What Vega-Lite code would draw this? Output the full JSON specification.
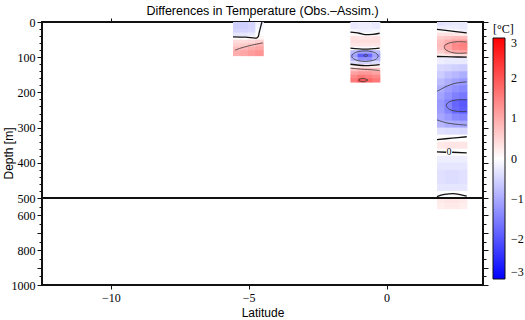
{
"$schema":"https://vega.github.io/schema/vega-lite/v6.json",
"width":441,"height":263,
"autosize":"none",
"padding":{"left":42,"top":22,"right":42,"bottom":35},
"background":"white",
"title":{"text":"Differences in Temperature (Obs.–Assim.)","font":"Liberation Sans","fontSize":12.5,"fontWeight":"normal","color":"black","anchor":"middle","baseline":"alphabetic","offset":0,"dy":11,"frame":"group"},
"config":{"view":{"stroke":"#111","strokeWidth":2},
"title":{"color":"black"},
"axis":{"grid":false,"domain":false,"tickColor":"#111","labelColor":"black","titleColor":"black","labelFont":"Liberation Serif","labelFontSize":12,"titleFont":"Liberation Sans","titleFontSize":12,"titleFontWeight":"normal","labelFlush":false,"labelOverlap":false}},
"datasets":{
"cells":[
{"a":-5.57,"b":-5.3,"t":0,"u":10,"v":-0.55},{"a":-5.3,"b":-5.03,"t":0,"u":10,"v":-0.55},{"a":-5.03,"b":-4.76,"t":0,"u":10,"v":-0.5},{"a":-4.76,"b":-4.48,"t":0,"u":10,"v":-0.15},
{"a":-5.57,"b":-5.3,"t":10,"u":20,"v":-0.55},{"a":-5.3,"b":-5.03,"t":10,"u":20,"v":-0.55},{"a":-5.03,"b":-4.76,"t":10,"u":20,"v":-0.5},{"a":-4.76,"b":-4.48,"t":10,"u":20,"v":-0.1},
{"a":-5.57,"b":-5.3,"t":20,"u":30,"v":-0.5},{"a":-5.3,"b":-5.03,"t":20,"u":30,"v":-0.5},{"a":-5.03,"b":-4.76,"t":20,"u":30,"v":-0.45},{"a":-4.76,"b":-4.48,"t":20,"u":30,"v":-0.05},
{"a":-5.57,"b":-5.3,"t":30,"u":40,"v":-0.3},{"a":-5.3,"b":-5.03,"t":30,"u":40,"v":-0.3},{"a":-5.03,"b":-4.76,"t":30,"u":40,"v":-0.25},{"a":-4.76,"b":-4.48,"t":30,"u":40,"v":0.0},
{"a":-5.57,"b":-5.3,"t":40,"u":50,"v":0.0},{"a":-5.3,"b":-5.03,"t":40,"u":50,"v":0.0},{"a":-5.03,"b":-4.76,"t":40,"u":50,"v":0.05},{"a":-4.76,"b":-4.48,"t":40,"u":50,"v":0.1},
{"a":-5.57,"b":-5.3,"t":50,"u":60,"v":0.4},{"a":-5.3,"b":-5.03,"t":50,"u":60,"v":0.4},{"a":-5.03,"b":-4.76,"t":50,"u":60,"v":0.45},{"a":-4.76,"b":-4.48,"t":50,"u":60,"v":0.55},
{"a":-5.57,"b":-5.3,"t":60,"u":70,"v":0.55},{"a":-5.3,"b":-5.03,"t":60,"u":70,"v":0.6},{"a":-5.03,"b":-4.76,"t":60,"u":70,"v":0.7},{"a":-4.76,"b":-4.48,"t":60,"u":70,"v":0.9},
{"a":-5.57,"b":-5.3,"t":70,"u":80,"v":0.75},{"a":-5.3,"b":-5.03,"t":70,"u":80,"v":0.85},{"a":-5.03,"b":-4.76,"t":70,"u":80,"v":0.95},{"a":-4.76,"b":-4.48,"t":70,"u":80,"v":1.05},
{"a":-5.57,"b":-5.3,"t":80,"u":95,"v":0.95},{"a":-5.3,"b":-5.03,"t":80,"u":95,"v":1.05},{"a":-5.03,"b":-4.76,"t":80,"u":95,"v":1.15},{"a":-4.76,"b":-4.48,"t":80,"u":95,"v":1.25},

{"a":-1.31,"b":-1.05,"t":0,"u":10,"v":-0.25},{"a":-1.05,"b":-0.78,"t":0,"u":10,"v":-0.2},{"a":-0.78,"b":-0.52,"t":0,"u":10,"v":-0.2},{"a":-0.52,"b":-0.25,"t":0,"u":10,"v":-0.25},
{"a":-1.31,"b":-1.05,"t":10,"u":20,"v":-0.25},{"a":-1.05,"b":-0.78,"t":10,"u":20,"v":-0.2},{"a":-0.78,"b":-0.52,"t":10,"u":20,"v":-0.2},{"a":-0.52,"b":-0.25,"t":10,"u":20,"v":-0.25},
{"a":-1.31,"b":-1.05,"t":20,"u":30,"v":-0.1},{"a":-1.05,"b":-0.78,"t":20,"u":30,"v":-0.15},{"a":-0.78,"b":-0.52,"t":20,"u":30,"v":-0.15},{"a":-0.52,"b":-0.25,"t":20,"u":30,"v":-0.1},
{"a":-1.31,"b":-1.05,"t":30,"u":40,"v":0.1},{"a":-1.05,"b":-0.78,"t":30,"u":40,"v":0.0},{"a":-0.78,"b":-0.52,"t":30,"u":40,"v":0.0},{"a":-0.52,"b":-0.25,"t":30,"u":40,"v":0.05},
{"a":-1.31,"b":-1.05,"t":40,"u":50,"v":0.35},{"a":-1.05,"b":-0.78,"t":40,"u":50,"v":0.3},{"a":-0.78,"b":-0.52,"t":40,"u":50,"v":0.3},{"a":-0.52,"b":-0.25,"t":40,"u":50,"v":0.35},
{"a":-1.31,"b":-1.05,"t":50,"u":60,"v":0.4},{"a":-1.05,"b":-0.78,"t":50,"u":60,"v":0.4},{"a":-0.78,"b":-0.52,"t":50,"u":60,"v":0.4},{"a":-0.52,"b":-0.25,"t":50,"u":60,"v":0.4},
{"a":-1.31,"b":-1.05,"t":60,"u":70,"v":0.3},{"a":-1.05,"b":-0.78,"t":60,"u":70,"v":0.3},{"a":-0.78,"b":-0.52,"t":60,"u":70,"v":0.3},{"a":-0.52,"b":-0.25,"t":60,"u":70,"v":0.3},
{"a":-1.31,"b":-1.05,"t":70,"u":80,"v":0.0},{"a":-1.05,"b":-0.78,"t":70,"u":80,"v":-0.05},{"a":-0.78,"b":-0.52,"t":70,"u":80,"v":-0.05},{"a":-0.52,"b":-0.25,"t":70,"u":80,"v":0.0},
{"a":-1.31,"b":-1.05,"t":80,"u":90,"v":-0.8},{"a":-1.05,"b":-0.78,"t":80,"u":90,"v":-1.1},{"a":-0.78,"b":-0.52,"t":80,"u":90,"v":-1.1},{"a":-0.52,"b":-0.25,"t":80,"u":90,"v":-0.8},
{"a":-1.31,"b":-1.05,"t":90,"u":100,"v":-1.1},{"a":-1.05,"b":-0.78,"t":90,"u":100,"v":-1.9},{"a":-0.78,"b":-0.52,"t":90,"u":100,"v":-1.8},{"a":-0.52,"b":-0.25,"t":90,"u":100,"v":-1.1},
{"a":-1.31,"b":-1.05,"t":100,"u":110,"v":-0.9},{"a":-1.05,"b":-0.78,"t":100,"u":110,"v":-1.3},{"a":-0.78,"b":-0.52,"t":100,"u":110,"v":-1.3},{"a":-0.52,"b":-0.25,"t":100,"u":110,"v":-0.9},
{"a":-1.31,"b":-1.05,"t":110,"u":120,"v":-0.4},{"a":-1.05,"b":-0.78,"t":110,"u":120,"v":-0.5},{"a":-0.78,"b":-0.52,"t":110,"u":120,"v":-0.5},{"a":-0.52,"b":-0.25,"t":110,"u":120,"v":-0.4},
{"a":-1.31,"b":-1.05,"t":120,"u":130,"v":0.15},{"a":-1.05,"b":-0.78,"t":120,"u":130,"v":0.15},{"a":-0.78,"b":-0.52,"t":120,"u":130,"v":0.15},{"a":-0.52,"b":-0.25,"t":120,"u":130,"v":0.15},
{"a":-1.31,"b":-1.05,"t":130,"u":140,"v":0.7},{"a":-1.05,"b":-0.78,"t":130,"u":140,"v":0.8},{"a":-0.78,"b":-0.52,"t":130,"u":140,"v":0.8},{"a":-0.52,"b":-0.25,"t":130,"u":140,"v":0.7},
{"a":-1.31,"b":-1.05,"t":140,"u":150,"v":1.1},{"a":-1.05,"b":-0.78,"t":140,"u":150,"v":1.2},{"a":-0.78,"b":-0.52,"t":140,"u":150,"v":1.2},{"a":-0.52,"b":-0.25,"t":140,"u":150,"v":1.1},
{"a":-1.31,"b":-1.05,"t":150,"u":160,"v":1.4},{"a":-1.05,"b":-0.78,"t":150,"u":160,"v":1.6},{"a":-0.78,"b":-0.52,"t":150,"u":160,"v":1.5},{"a":-0.52,"b":-0.25,"t":150,"u":160,"v":1.4},
{"a":-1.31,"b":-1.05,"t":160,"u":170,"v":1.6},{"a":-1.05,"b":-0.78,"t":160,"u":170,"v":2.0},{"a":-0.78,"b":-0.52,"t":160,"u":170,"v":1.8},{"a":-0.52,"b":-0.25,"t":160,"u":170,"v":1.6},

{"a":1.83,"b":2.1,"t":0,"u":10,"v":-0.35},{"a":2.1,"b":2.37,"t":0,"u":10,"v":-0.3},{"a":2.37,"b":2.64,"t":0,"u":10,"v":-0.25},{"a":2.64,"b":2.91,"t":0,"u":10,"v":-0.25},
{"a":1.83,"b":2.1,"t":10,"u":20,"v":-0.2},{"a":2.1,"b":2.37,"t":10,"u":20,"v":-0.2},{"a":2.37,"b":2.64,"t":10,"u":20,"v":-0.2},{"a":2.64,"b":2.91,"t":10,"u":20,"v":-0.25},
{"a":1.83,"b":2.1,"t":20,"u":30,"v":0.05},{"a":2.1,"b":2.37,"t":20,"u":30,"v":-0.05},{"a":2.37,"b":2.64,"t":20,"u":30,"v":-0.1},{"a":2.64,"b":2.91,"t":20,"u":30,"v":-0.15},
{"a":1.83,"b":2.1,"t":30,"u":40,"v":0.35},{"a":2.1,"b":2.37,"t":30,"u":40,"v":0.35},{"a":2.37,"b":2.64,"t":30,"u":40,"v":0.3},{"a":2.64,"b":2.91,"t":30,"u":40,"v":0.25},
{"a":1.83,"b":2.1,"t":40,"u":50,"v":0.6},{"a":2.1,"b":2.37,"t":40,"u":50,"v":0.7},{"a":2.37,"b":2.64,"t":40,"u":50,"v":0.8},{"a":2.64,"b":2.91,"t":40,"u":50,"v":0.8},
{"a":1.83,"b":2.1,"t":50,"u":60,"v":0.75},{"a":2.1,"b":2.37,"t":50,"u":60,"v":0.95},{"a":2.37,"b":2.64,"t":50,"u":60,"v":1.1},{"a":2.64,"b":2.91,"t":50,"u":60,"v":1.2},
{"a":1.83,"b":2.1,"t":60,"u":70,"v":0.8},{"a":2.1,"b":2.37,"t":60,"u":70,"v":1.1},{"a":2.37,"b":2.64,"t":60,"u":70,"v":1.4},{"a":2.64,"b":2.91,"t":60,"u":70,"v":1.5},
{"a":1.83,"b":2.1,"t":70,"u":80,"v":0.75},{"a":2.1,"b":2.37,"t":70,"u":80,"v":1.05},{"a":2.37,"b":2.64,"t":70,"u":80,"v":1.35},{"a":2.64,"b":2.91,"t":70,"u":80,"v":1.45},
{"a":1.83,"b":2.1,"t":80,"u":90,"v":0.55},{"a":2.1,"b":2.37,"t":80,"u":90,"v":0.8},{"a":2.37,"b":2.64,"t":80,"u":90,"v":1.0},{"a":2.64,"b":2.91,"t":80,"u":90,"v":1.1},
{"a":1.83,"b":2.1,"t":90,"u":100,"v":0.2},{"a":2.1,"b":2.37,"t":90,"u":100,"v":0.3},{"a":2.37,"b":2.64,"t":90,"u":100,"v":0.35},{"a":2.64,"b":2.91,"t":90,"u":100,"v":0.4},
{"a":1.83,"b":2.1,"t":100,"u":120,"v":-0.2},{"a":2.1,"b":2.37,"t":100,"u":120,"v":-0.25},{"a":2.37,"b":2.64,"t":100,"u":120,"v":-0.25},{"a":2.64,"b":2.91,"t":100,"u":120,"v":-0.25},
{"a":1.83,"b":2.1,"t":120,"u":140,"v":-0.45},{"a":2.1,"b":2.37,"t":120,"u":140,"v":-0.5},{"a":2.37,"b":2.64,"t":120,"u":140,"v":-0.55},{"a":2.64,"b":2.91,"t":120,"u":140,"v":-0.6},
{"a":1.83,"b":2.1,"t":140,"u":160,"v":-0.6},{"a":2.1,"b":2.37,"t":140,"u":160,"v":-0.75},{"a":2.37,"b":2.64,"t":140,"u":160,"v":-0.85},{"a":2.64,"b":2.91,"t":140,"u":160,"v":-0.95},
{"a":1.83,"b":2.1,"t":160,"u":180,"v":-0.8},{"a":2.1,"b":2.37,"t":160,"u":180,"v":-0.95},{"a":2.37,"b":2.64,"t":160,"u":180,"v":-1.1},{"a":2.64,"b":2.91,"t":160,"u":180,"v":-1.2},
{"a":1.83,"b":2.1,"t":180,"u":200,"v":-0.95},{"a":2.1,"b":2.37,"t":180,"u":200,"v":-1.15},{"a":2.37,"b":2.64,"t":180,"u":200,"v":-1.3},{"a":2.64,"b":2.91,"t":180,"u":200,"v":-1.4},
{"a":1.83,"b":2.1,"t":200,"u":220,"v":-1.1},{"a":2.1,"b":2.37,"t":200,"u":220,"v":-1.3},{"a":2.37,"b":2.64,"t":200,"u":220,"v":-1.5},{"a":2.64,"b":2.91,"t":200,"u":220,"v":-1.6},
{"a":1.83,"b":2.1,"t":220,"u":240,"v":-1.2},{"a":2.1,"b":2.37,"t":220,"u":240,"v":-1.45},{"a":2.37,"b":2.64,"t":220,"u":240,"v":-1.8},{"a":2.64,"b":2.91,"t":220,"u":240,"v":-1.95},
{"a":1.83,"b":2.1,"t":240,"u":260,"v":-1.15},{"a":2.1,"b":2.37,"t":240,"u":260,"v":-1.45},{"a":2.37,"b":2.64,"t":240,"u":260,"v":-1.75},{"a":2.64,"b":2.91,"t":240,"u":260,"v":-1.9},
{"a":1.83,"b":2.1,"t":260,"u":280,"v":-1.05},{"a":2.1,"b":2.37,"t":260,"u":280,"v":-1.2},{"a":2.37,"b":2.64,"t":260,"u":280,"v":-1.4},{"a":2.64,"b":2.91,"t":260,"u":280,"v":-1.45},
{"a":1.83,"b":2.1,"t":280,"u":300,"v":-0.85},{"a":2.1,"b":2.37,"t":280,"u":300,"v":-0.95},{"a":2.37,"b":2.64,"t":280,"u":300,"v":-1.0},{"a":2.64,"b":2.91,"t":280,"u":300,"v":-1.05},
{"a":1.83,"b":2.1,"t":300,"u":320,"v":-0.35},{"a":2.1,"b":2.37,"t":300,"u":320,"v":-0.4},{"a":2.37,"b":2.64,"t":300,"u":320,"v":-0.4},{"a":2.64,"b":2.91,"t":300,"u":320,"v":-0.45},
{"a":1.83,"b":2.1,"t":320,"u":340,"v":0.05},{"a":2.1,"b":2.37,"t":320,"u":340,"v":0.05},{"a":2.37,"b":2.64,"t":320,"u":340,"v":0.0},{"a":2.64,"b":2.91,"t":320,"u":340,"v":0.0},
{"a":1.83,"b":2.1,"t":340,"u":360,"v":0.25},{"a":2.1,"b":2.37,"t":340,"u":360,"v":0.3},{"a":2.37,"b":2.64,"t":340,"u":360,"v":0.3},{"a":2.64,"b":2.91,"t":340,"u":360,"v":0.3},
{"a":1.83,"b":2.1,"t":360,"u":380,"v":0.05},{"a":2.1,"b":2.37,"t":360,"u":380,"v":0.0},{"a":2.37,"b":2.64,"t":360,"u":380,"v":0.0},{"a":2.64,"b":2.91,"t":360,"u":380,"v":0.0},
{"a":1.83,"b":2.1,"t":380,"u":400,"v":-0.2},{"a":2.1,"b":2.37,"t":380,"u":400,"v":-0.2},{"a":2.37,"b":2.64,"t":380,"u":400,"v":-0.2},{"a":2.64,"b":2.91,"t":380,"u":400,"v":-0.2},
{"a":1.83,"b":2.1,"t":400,"u":420,"v":-0.3},{"a":2.1,"b":2.37,"t":400,"u":420,"v":-0.3},{"a":2.37,"b":2.64,"t":400,"u":420,"v":-0.3},{"a":2.64,"b":2.91,"t":400,"u":420,"v":-0.3},
{"a":1.83,"b":2.1,"t":420,"u":440,"v":-0.35},{"a":2.1,"b":2.37,"t":420,"u":440,"v":-0.4},{"a":2.37,"b":2.64,"t":420,"u":440,"v":-0.4},{"a":2.64,"b":2.91,"t":420,"u":440,"v":-0.35},
{"a":1.83,"b":2.1,"t":440,"u":460,"v":-0.35},{"a":2.1,"b":2.37,"t":440,"u":460,"v":-0.4},{"a":2.37,"b":2.64,"t":440,"u":460,"v":-0.4},{"a":2.64,"b":2.91,"t":440,"u":460,"v":-0.35},
{"a":1.83,"b":2.1,"t":460,"u":480,"v":-0.3},{"a":2.1,"b":2.37,"t":460,"u":480,"v":-0.3},{"a":2.37,"b":2.64,"t":460,"u":480,"v":-0.3},{"a":2.64,"b":2.91,"t":460,"u":480,"v":-0.3},
{"a":1.83,"b":2.1,"t":480,"u":500,"v":-0.05},{"a":2.1,"b":2.37,"t":480,"u":500,"v":0.0},{"a":2.37,"b":2.64,"t":480,"u":500,"v":0.05},{"a":2.64,"b":2.91,"t":480,"u":500,"v":0.0},
{"a":1.83,"b":2.1,"t":500,"u":530,"v":0.25},{"a":2.1,"b":2.37,"t":500,"u":530,"v":0.3},{"a":2.37,"b":2.64,"t":500,"u":530,"v":0.3},{"a":2.64,"b":2.91,"t":500,"u":530,"v":0.25},
{"a":1.83,"b":2.1,"t":530,"u":560,"v":0.2},{"a":2.1,"b":2.37,"t":530,"u":560,"v":0.25},{"a":2.37,"b":2.64,"t":530,"u":560,"v":0.25},{"a":2.64,"b":2.91,"t":530,"u":560,"v":0.2}
],
"thick":[
{"g":"A","o":1,"x":-5.57,"y":42},{"g":"A","o":2,"x":-5.1,"y":43},{"g":"A","o":3,"x":-4.7,"y":45},{"g":"A","o":4,"x":-4.62,"y":30},{"g":"A","o":5,"x":-4.55,"y":8},{"g":"A","o":6,"x":-4.52,"y":0},
{"g":"B","o":1,"x":-1.31,"y":29},{"g":"B","o":2,"x":-1.0,"y":32},{"g":"B","o":3,"x":-0.78,"y":36},{"g":"B","o":4,"x":-0.5,"y":35},{"g":"B","o":5,"x":-0.25,"y":32},
{"g":"C","o":1,"x":-1.31,"y":74},{"g":"C","o":2,"x":-0.78,"y":77},{"g":"C","o":3,"x":-0.25,"y":74},
{"g":"D","o":1,"x":-1.31,"y":120},{"g":"D","o":2,"x":-0.78,"y":124},{"g":"D","o":3,"x":-0.25,"y":121},
{"g":"E","o":1,"x":1.83,"y":21},{"g":"E","o":2,"x":2.37,"y":26},{"g":"E","o":3,"x":2.91,"y":31},
{"g":"F","o":1,"x":1.83,"y":98},{"g":"F","o":2,"x":2.37,"y":99},{"g":"F","o":3,"x":2.91,"y":100},
{"g":"G","o":1,"x":1.83,"y":334},{"g":"G","o":2,"x":2.37,"y":330},{"g":"G","o":3,"x":2.91,"y":326},
{"g":"H","o":1,"x":1.83,"y":369},{"g":"H","o":2,"x":2.16,"y":370},
{"g":"H2","o":1,"x":2.38,"y":370},{"g":"H2","o":2,"x":2.91,"y":372},
{"g":"I","o":1,"x":1.83,"y":496},{"g":"I","o":2,"x":2.1,"y":490},{"g":"I","o":3,"x":2.5,"y":488},{"g":"I","o":4,"x":2.91,"y":495}
],
"thin":[
{"g":"J","o":1,"x":-5.5,"y":80},{"g":"J","o":2,"x":-5.2,"y":72},{"g":"J","o":3,"x":-4.9,"y":66},{"g":"J","o":4,"x":-4.48,"y":59},
{"g":"K","o":1,"x":-0.3,"y":97},{"g":"K","o":2,"x":-0.364,"y":104.5},{"g":"K","o":3,"x":-0.54,"y":110},{"g":"K","o":4,"x":-0.78,"y":112},{"g":"K","o":5,"x":-1.02,"y":110},{"g":"K","o":6,"x":-1.196,"y":104.5},{"g":"K","o":7,"x":-1.26,"y":97},{"g":"K","o":8,"x":-1.196,"y":89.5},{"g":"K","o":9,"x":-1.02,"y":84},{"g":"K","o":10,"x":-0.78,"y":82},{"g":"K","o":11,"x":-0.54,"y":84},{"g":"K","o":12,"x":-0.364,"y":89.5},{"g":"K","o":13,"x":-0.3,"y":97},
{"g":"L","o":1,"x":-0.68,"y":95},{"g":"L","o":2,"x":-0.75,"y":98},{"g":"L","o":3,"x":-0.82,"y":95},{"g":"L","o":4,"x":-0.75,"y":92},{"g":"L","o":5,"x":-0.68,"y":95},
{"g":"M","o":1,"x":-1.31,"y":131},{"g":"M","o":2,"x":-0.9,"y":134},{"g":"M","o":3,"x":-0.5,"y":136},{"g":"M","o":4,"x":-0.25,"y":138},
{"g":"N","o":1,"x":-0.68,"y":165},{"g":"N","o":2,"x":-0.85,"y":170},{"g":"N","o":3,"x":-1.02,"y":165},{"g":"N","o":4,"x":-0.85,"y":160},{"g":"N","o":5,"x":-0.68,"y":165},
{"g":"O","o":1,"x":2.91,"y":57},{"g":"O","o":2,"x":2.6,"y":56},{"g":"O","o":3,"x":2.3,"y":59},{"g":"O","o":4,"x":2.12,"y":66},{"g":"O","o":5,"x":2.1,"y":72},{"g":"O","o":6,"x":2.15,"y":79},{"g":"O","o":7,"x":2.35,"y":86},{"g":"O","o":8,"x":2.6,"y":89},{"g":"O","o":9,"x":2.91,"y":88},
{"g":"P","o":1,"x":1.83,"y":197},{"g":"P","o":2,"x":2.0,"y":190},{"g":"P","o":3,"x":2.2,"y":182},{"g":"P","o":4,"x":2.5,"y":174},{"g":"P","o":5,"x":2.91,"y":170},
{"g":"Q","o":1,"x":1.83,"y":278},{"g":"Q","o":2,"x":2.2,"y":287},{"g":"Q","o":3,"x":2.6,"y":291},{"g":"Q","o":4,"x":2.91,"y":293},
{"g":"R","o":1,"x":2.91,"y":221},{"g":"R","o":2,"x":2.6,"y":221},{"g":"R","o":3,"x":2.3,"y":226},{"g":"R","o":4,"x":2.17,"y":237},{"g":"R","o":5,"x":2.3,"y":249},{"g":"R","o":6,"x":2.6,"y":254},{"g":"R","o":7,"x":2.91,"y":254}
],
"brk":[{"d":500}],
"lbl":[{"x":2.27,"y":370,"s":"0"}]
},
"layer":[
{"data":{"name":"cells"},"mark":{"type":"rect","strokeWidth":0,"x2Offset":0.7,"y2Offset":0.7},
 "encoding":{
  "x":{"field":"a","type":"quantitative","scale":{"domain":[-12.5,3.5],"nice":false,"zero":false},
   "axis":{"orient":"bottom","values":[-10,-5,0],"title":"Latitude","tickSize":4,"labelPadding":3,"titlePadding":4}},
  "x2":{"field":"b"},
  "y":{"field":"t","type":"quantitative","scale":{"domain":[0,500,1000],"range":[0,176,263],"nice":false,"zero":false},
   "axis":{"orient":"left","values":[0,100,200,300,400,500,600,700,800,900,1000],"format":"d","labelExpr":"datum.value==700||datum.value==900?'':datum.label","title":"Depth [m]","titleX":-34,"titleY":131,"titleAngle":-90,"titleAlign":"center","titleBaseline":"middle","tickSize":5,"labelPadding":2}},
  "y2":{"field":"u"},
  "color":{"field":"v","type":"quantitative","scale":{"domain":[-3,0,3],"range":["#0000ff","#ffffff","#ff0000"],"interpolate":"rgb"},
   "legend":{"title":"[°C]","orient":"none","legendX":451,"legendY":2,"direction":"vertical","gradientLength":241,"gradientThickness":12,"gradientStrokeColor":"#111","gradientStrokeWidth":1,"values":[-3,-2,-1,0,1,2,3],"labelFont":"Liberation Serif","labelFontSize":12,"labelColor":"#000000","labelOffset":6,"labelBaseline":"middle","titleFont":"Liberation Serif","titleFontSize":12,"titleFontWeight":"normal","titleColor":"#000000","titlePadding":2,"labelOverlap":false}}
 }},
{"data":{"name":"thick"},"mark":{"type":"line","color":"#111","strokeWidth":1.3,"interpolate":"cardinal"},
 "encoding":{
  "x":{"field":"x","type":"quantitative","scale":{"domain":[-12.5,3.5],"nice":false,"zero":false},
   "axis":{"orient":"top","values":[-10,-5,0],"labels":false,"title":null,"tickSize":4}},
  "y":{"field":"y","type":"quantitative","scale":{"domain":[0,500,1000],"range":[0,176,263],"nice":false,"zero":false},
   "axis":{"orient":"left","values":[20,40,60,80,120,140,160,180,220,240,260,280,320,340,360,380,420,440,460,480,550,650,750,850,950],"labels":false,"title":null,"tickSize":3}},
  "detail":{"field":"g"},"order":{"field":"o"}
 }},
{"data":{"name":"thin"},"mark":{"type":"line","color":"#333","strokeWidth":0.8,"interpolate":"cardinal"},
 "encoding":{
  "x":{"field":"x","type":"quantitative","scale":{"domain":[-12.5,3.5],"nice":false,"zero":false},"axis":null},
  "y":{"field":"y","type":"quantitative","scale":{"domain":[0,500,1000],"range":[0,176,263],"nice":false,"zero":false},
   "axis":{"orient":"right","values":[0,100,200,300,400,500,600,700,800,900,1000],"labels":false,"title":null,"tickSize":5}},
  "detail":{"field":"g"},"order":{"field":"o"}
 }},
{"data":{"name":"brk"},"mark":{"type":"rule","color":"#111","strokeWidth":2},
 "encoding":{
  "y":{"field":"d","type":"quantitative","scale":{"domain":[0,500,1000],"range":[0,176,263],"nice":false,"zero":false},
   "axis":{"orient":"right","values":[20,40,60,80,120,140,160,180,220,240,260,280,320,340,360,380,420,440,460,480,550,650,750,850,950],"labels":false,"title":null,"tickSize":3}}
 }},
{"data":{"name":"lbl"},"mark":{"type":"text","font":"Liberation Serif","fontSize":10,"color":"#111"},
 "encoding":{
  "x":{"field":"x","type":"quantitative","scale":{"domain":[-12.5,3.5],"nice":false,"zero":false},"axis":null},
  "y":{"field":"y","type":"quantitative","scale":{"domain":[0,500,1000],"range":[0,176,263],"nice":false,"zero":false},"axis":null},
  "text":{"field":"s"}
 }}
],
"resolve":{"axis":{"x":"independent","y":"independent"}}
}
